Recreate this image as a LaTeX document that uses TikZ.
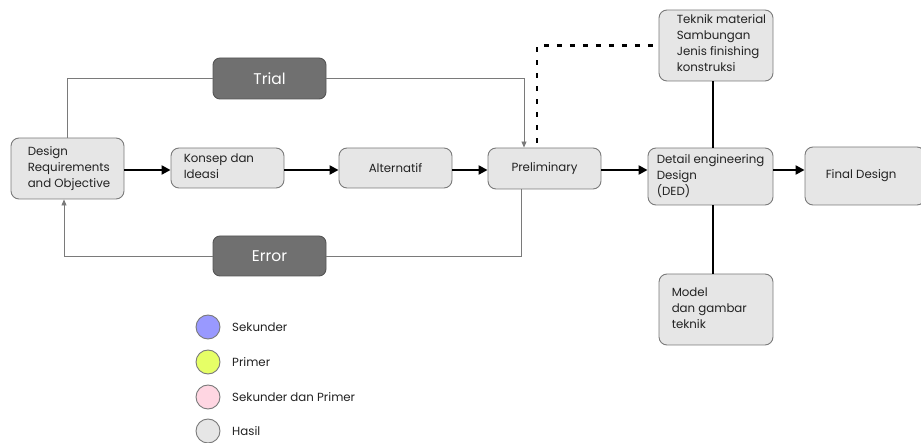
\documentclass[tikz,border=0pt]{standalone}
\usepackage{fontspec}
\setmainfont{Poppins}
\usetikzlibrary{arrows.meta,calc}
\definecolor{boxfill}{HTML}{E6E6E6}
\definecolor{boxline}{HTML}{7A7A7A}
\definecolor{darkfill}{HTML}{707070}
\definecolor{darkline}{HTML}{555555}
\definecolor{thinline}{HTML}{7A7A7A}
\definecolor{csek}{HTML}{9999FF}
\definecolor{cpri}{HTML}{E6FF66}
\definecolor{cpink}{HTML}{FFD6E2}
\definecolor{txt}{HTML}{222222}
\tikzset{
  box/.style={draw=boxline, fill=boxfill, rounded corners=8pt, line width=0.9pt, inner sep=0pt, text=txt},
  darkbox/.style={draw=darkline, fill=darkfill, rounded corners=7pt, line width=0.9pt, inner sep=0pt,
     text=white, font=\fontsize{15.5}{17}\selectfont, minimum width=113pt, minimum height=41pt},
  lbl/.style={font=\fontsize{11.8}{16}\selectfont, align=left, inner sep=0pt, anchor=west, text=txt},
  main/.style={line width=2.2pt, -{Triangle[length=9pt,width=9pt]}},
  thin/.style={draw=thinline, line width=0.8pt},
  thinarrow/.style={thin, -{Triangle[length=6pt,width=5pt]}, shorten >=0pt},
  link/.style={line width=2.2pt},
  dots/.style={line width=2.6pt, dash pattern=on 5pt off 8pt},
  legdot/.style={circle, draw=boxline, line width=0.9pt, minimum size=24pt, inner sep=0pt},
  legtext/.style={font=\fontsize{11.8}{13}\selectfont, anchor=west, inner sep=0pt, text=txt}
}
\begin{document}
\begin{tikzpicture}[x=1pt,y=-1pt]
\useasboundingbox (0,0) rectangle (921,443);
\clip (0,0) rectangle (921,443);
% boxes
\node[box, minimum width=113pt, minimum height=61pt,
  label={[lbl, xshift=17pt]west:Design\\Requirements\\and Objective}] (design) at (67.5,168.5) {};
\node[box, minimum width=113pt, minimum height=40pt,
  label={[lbl, xshift=13pt, yshift=2pt]west:Konsep dan\\Ideasi}] (konsep) at (227.5,168) {};
\node[box, minimum width=113pt, minimum height=40pt, font=\fontsize{11.8}{16}\selectfont] (alt) at (395.5,168) {Alternatif};
\node[box, minimum width=113pt, minimum height=41pt, font=\fontsize{11.8}{16}\selectfont] (prelim) at (544.5,168.5) {Preliminary};
\node[box, minimum width=125pt, minimum height=57pt,
  label={[lbl, xshift=9pt]west:Detail engineering\\Design\\(DED)}] (ded) at (710.5,176.5) {};
\node[box, minimum width=120pt, minimum height=58pt,
  label={[lbl, xshift=21pt]west:Final Design}] (final) at (865,176) {};
\node[box, minimum width=114pt, minimum height=71pt,
  label={[lbl, xshift=18pt, yshift=2pt]west:Teknik material\\Sambungan\\Jenis finishing\\konstruksi}] (teknik) at (716,45.5) {};
\node[box, minimum width=114pt, minimum height=71pt,
  label={[lbl, xshift=13pt, yshift=1.5pt]west:Model\\dan gambar\\teknik}] (model) at (716,309.5) {};
\node[darkbox] (trial) at (269.5,78.5) {Trial};
\node[darkbox, minimum height=40pt] (error) at (269.5,256) {Error};
% main flow
\draw[main] (design.east |- 0,170) -- (konsep.west |- 0,170);
\draw[main] (konsep.east |- 0,170) -- (alt.west |- 0,170);
\draw[main] (alt.east |- 0,170) -- (prelim.west |- 0,170);
\draw[main] (prelim.east |- 0,170) -- (ded.west |- 0,170);
\draw[main] (ded.east |- 0,170) -- (final.west |- 0,170);
% links to DED
\draw[link] (ded.north -| 713,0) -- (teknik.south -| 713,0);
\draw[link] (ded.south -| 713,0) -- (model.north -| 713,0);
% trial loop
\draw[thin] (design.north) |- (trial.west);
\draw[thinarrow] (trial.east) -| ($(prelim.north)+(-20.5,0)$);
% error loop
\draw[thin] ($(prelim.south)+(-23.5,0)$) |- (error.east);
\draw[thinarrow] (error.west) -| ($(design.south)+(-3.5,0)$);
% dotted link
\draw[dots] ($(prelim.north)+(-7.5,-5)$) |- (teknik.west);
% legend
\node[legdot, fill=csek] (l1) at (208,327) {};
\node[legdot, fill=cpri] (l2) at (208,362) {};
\node[legdot, fill=cpink] (l3) at (208,397) {};
\node[legdot, fill=boxfill] (l4) at (208,431) {};
\node[legtext] (t1) at (232,327) {Sekunder};
\node[legtext] (t2) at (232,362) {Primer};
\node[legtext] (t3) at (232,397) {Sekunder dan Primer};
\node[legtext] (t4) at (232,431) {Hasil};
\end{tikzpicture}
\end{document}
